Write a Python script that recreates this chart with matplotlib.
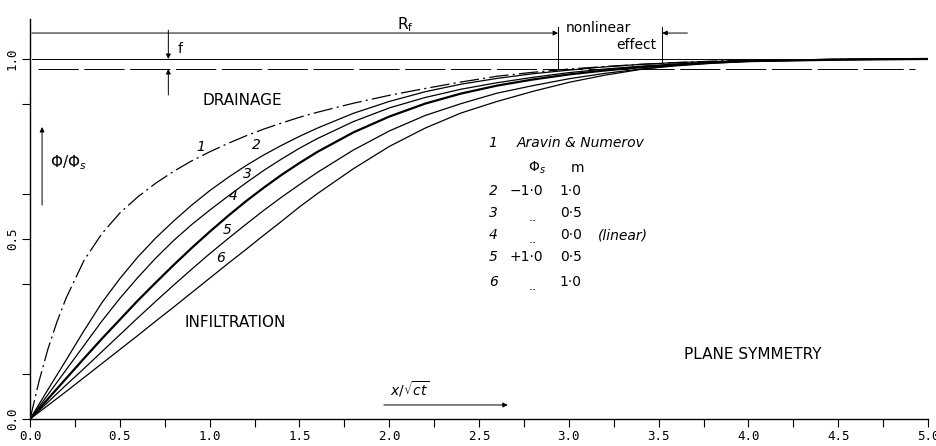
import numpy as np
import matplotlib.pyplot as plt

plt.rcParams['lines.scale_dashes'] = False

# curve readings (x / sqrt(ct), Phi/Phi_s)
xg = [0, 0.1, 0.2, 0.3, 0.4, 0.5, 0.6, 0.7, 0.8, 0.9, 1.0, 1.1, 1.2, 1.3, 1.4, 1.5, 1.6,
      1.8, 2.0, 2.2, 2.4, 2.6, 2.8, 3.0, 3.2, 3.4, 3.6, 3.8, 4.0, 4.5, 5.0]

c1_x = [0, 0.05, 0.1, 0.15, 0.2, 0.3, 0.4, 0.5, 0.6, 0.7, 0.8, 0.9, 1.0, 1.1, 1.2, 1.3, 1.4, 1.5, 1.6,
        1.8, 2.0, 2.2, 2.4, 2.6, 2.8, 3.0, 3.2, 3.4, 3.6, 3.8, 4.0, 4.5, 5.0]
c1_y = [0, 0.105, 0.195, 0.27, 0.335, 0.44, 0.515, 0.572, 0.617, 0.655, 0.688, 0.717, 0.742, 0.765,
        0.786, 0.805, 0.822, 0.838, 0.852, 0.877, 0.899, 0.918, 0.936, 0.952, 0.963, 0.972, 0.979,
        0.985, 0.99, 0.994, 0.996, 0.999, 1.0]

c2_y = [0, 0.082, 0.163, 0.245, 0.323, 0.39, 0.45, 0.503, 0.55, 0.594, 0.634, 0.67, 0.703, 0.733,
        0.76, 0.785, 0.808, 0.849, 0.882, 0.909, 0.93, 0.946, 0.959, 0.969, 0.978, 0.985, 0.99,
        0.993, 0.996, 0.999, 1.0]

c3_y = [0, 0.068, 0.136, 0.204, 0.272, 0.335, 0.393, 0.447, 0.496, 0.54, 0.58, 0.618, 0.655, 0.69,
        0.722, 0.752, 0.779, 0.826, 0.864, 0.893, 0.916, 0.934, 0.949, 0.962, 0.972, 0.98, 0.986,
        0.991, 0.994, 0.998, 1.0]

c4_y = [0, 0.056, 0.112, 0.168, 0.223, 0.276, 0.329, 0.379, 0.428, 0.475, 0.52, 0.563, 0.604, 0.642,
        0.678, 0.711, 0.742, 0.796, 0.84, 0.876, 0.904, 0.926, 0.943, 0.957, 0.968, 0.977, 0.984,
        0.99, 0.994, 0.998, 1.0]

c5_y = [0, 0.047, 0.094, 0.14, 0.187, 0.234, 0.281, 0.327, 0.372, 0.416, 0.459, 0.5, 0.54, 0.579,
        0.616, 0.651, 0.685, 0.747, 0.8, 0.843, 0.876, 0.905, 0.926, 0.945, 0.96, 0.972, 0.981,
        0.988, 0.993, 0.998, 1.0]

c6_y = [0, 0.038, 0.076, 0.115, 0.154, 0.193, 0.232, 0.272, 0.311, 0.351, 0.391, 0.431, 0.47, 0.51,
        0.549, 0.589, 0.626, 0.695, 0.757, 0.808, 0.85, 0.882, 0.91, 0.935, 0.955, 0.971, 0.983,
        0.99, 0.995, 0.999, 1.0]

curve_labels = ['1', '2', '3', '4', '5', '6']
label_pos = [(0.95, 0.756), (1.26, 0.76), (1.21, 0.68), (1.13, 0.62), (1.10, 0.525), (1.06, 0.447)]

legend_num = ['2', '3', '4', '5', '6']
legend_phi = ['\u22121\u00b70', '..', '..', '+1\u00b70', '..']
legend_m = ['1\u00b70', '0\u00b75', '0\u00b70', '0\u00b75', '1\u00b70']

x_ticks = [0.0, 0.5, 1.0, 1.5, 2.0, 2.5, 3.0, 3.5, 4.0, 4.5, 5.0]
y_ticks = [0.0, 0.5, 1.0]

fig = plt.figure(figsize=(9.36, 4.46), dpi=100)
ax = fig.add_axes([0.0321, 0.0605, 0.9594, 0.8969])
ax.set_xlim(0, 5.0)
ax.set_ylim(0, 1.111)
for s in ['top', 'right']:
    ax.spines[s].set_visible(False)
ax.spines['left'].set_linewidth(1.0)
ax.spines['bottom'].set_linewidth(1.0)

ax.set_xticks(x_ticks)
ax.set_xticklabels(['%.1f' % v for v in x_ticks], family='DejaVu Sans Mono', fontsize=9)
ax.set_xticks(np.arange(0.25, 5.0, 0.5), minor=True)
ax.set_yticks(y_ticks)
ax.set_yticklabels(['%.1f' % v for v in y_ticks], family='DejaVu Sans Mono', fontsize=9,
                   rotation=90, va='center')
ax.set_yticks(np.arange(0.125, 1.1, 0.25), minor=True)
ax.tick_params(which='both', direction='out', length=6, width=0.8, pad=2)

lw = 0.9
ax.plot(c1_x, c1_y, color='k', lw=lw, dashes=(14, 3, 1.5, 3))
ax.plot(xg, c2_y, color='k', lw=lw)
ax.plot(xg, c3_y, color='k', lw=lw)
ax.plot(xg, c4_y, color='k', lw=1.6)
ax.plot(xg, c5_y, color='k', lw=lw)
ax.plot(xg, c6_y, color='k', lw=lw)

for lab, (px, py) in zip(curve_labels, label_pos):
    ax.text(px, py, lab, fontsize=10, style='italic', ha='center', va='center')

# reference lines
ax.plot([0.01, 4.93], [1.0, 1.0], color='k', lw=0.7)
ax.plot([0.045, 4.93], [0.972, 0.972], color='k', lw=0.7, dashes=(29, 4))

# R_f and nonlinear effect dimension lines
arr = dict(arrowstyle='-|>', color='k', lw=0.7, mutation_scale=7, shrinkA=0, shrinkB=0)
ax.annotate('', xy=(2.94, 1.072), xytext=(0.01, 1.072), arrowprops=arr)
ax.plot([2.94, 2.94], [1.09, 0.975], color='k', lw=0.7)
ax.plot([3.52, 3.52], [1.09, 0.99], color='k', lw=0.7)
ax.annotate('', xy=(3.52, 1.072), xytext=(3.66, 1.072), arrowprops=arr)
ax.text(2.09, 1.095, '$\\mathregular{R_f}$', fontsize=11, ha='center', va='center')
ax.text(2.98, 1.085, 'nonlinear', fontsize=10, ha='left', va='center')
ax.text(3.49, 1.04, 'effect', fontsize=10, ha='right', va='center')

# f
ax.annotate('', xy=(0.77, 1.0), xytext=(0.77, 1.08), arrowprops=arr)
ax.annotate('', xy=(0.77, 0.972), xytext=(0.77, 0.90), arrowprops=arr)
ax.text(0.835, 1.028, 'f', fontsize=10, ha='center', va='center')

# y label with arrow
ax.annotate('', xy=(0.067, 0.811), xytext=(0.067, 0.594), arrowprops=arr)
ax.text(0.11, 0.711, '$\\Phi/\\Phi_s$', fontsize=11, ha='left', va='center')

# x label with arrow
ax.annotate('', xy=(2.66, 0.039), xytext=(1.97, 0.039), arrowprops=arr)
ax.text(2.116, 0.083, '$x/\\sqrt{ct}$', fontsize=10, ha='center', va='center')

ax.text(0.96, 0.886, 'DRAINAGE', fontsize=11, ha='left', va='center')
ax.text(0.86, 0.267, 'INFILTRATION', fontsize=11, ha='left', va='center')
ax.text(3.64, 0.18, 'PLANE SYMMETRY', fontsize=11, ha='left', va='center')

# legend block
ax.text(2.55, 0.767, '1', fontsize=10, style='italic', ha='left', va='center')
ax.text(2.71, 0.767, 'Aravin & Numerov', fontsize=10, style='italic', ha='left', va='center')
ax.text(2.77, 0.697, '$\\Phi_s$', fontsize=10, ha='left', va='center')
ax.text(3.01, 0.697, 'm', fontsize=10, ha='left', va='center')
rows_y = [0.633, 0.572, 0.511, 0.45, 0.381]
for ry, n, p, m in zip(rows_y, legend_num, legend_phi, legend_m):
    ax.text(2.556, ry, n, fontsize=10, style='italic', ha='left', va='center')
    if p == '..':
        ax.text(2.80, ry - 0.012, p, fontsize=9, ha='center', va='center')
    else:
        ax.text(2.67, ry, p, fontsize=10, ha='left', va='center')
    ax.text(2.95, ry, m, fontsize=10, ha='left', va='center')
ax.text(3.16, 0.511, '(linear)', fontsize=10, style='italic', ha='left', va='center')

fig.savefig('out.png', dpi=100)
